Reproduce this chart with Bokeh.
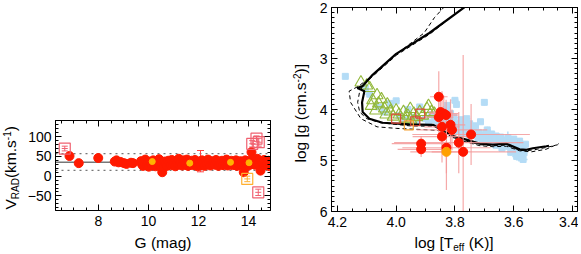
import numpy as np
from math import pi
from bokeh.plotting import figure
from bokeh.models import (Range1d, LinearAxis, FixedTicker, Span, Label, Spacer,
                          PrintfTickFormatter, CustomJSTickFormatter)
from bokeh.layouts import row, column
from bokeh.embed import file_html
from bokeh.resources import INLINE

FONT = "Liberation Sans"

# ---------------- left panel data: V_RAD vs G ----------------
G_circ = [6.84, 7.21, 7.99, 8.65, 8.72, 8.80, 8.88, 9.02, 9.12, 9.30, 9.38,
          9.70, 9.74, 9.78, 9.83, 9.87, 9.92, 9.96, 10.01, 10.05, 10.10, 10.14, 10.19,
          10.23, 10.28, 10.33, 10.38, 10.42, 10.47, 10.52, 10.55, 10.60, 10.65, 10.70,
          10.74, 10.79, 10.84, 10.88, 10.93, 10.98, 11.02, 11.07, 11.12, 11.16, 11.21,
          11.26, 11.30, 11.35, 11.40, 11.45, 11.49, 11.54, 11.58, 11.63, 11.68, 11.72,
          11.77, 11.82, 11.86, 11.91, 11.96, 12.00, 12.05, 12.10, 12.14, 12.19, 12.24,
          12.28, 12.33, 12.38, 12.42, 12.47, 12.52, 12.56, 12.61, 12.66, 12.70, 12.75,
          12.80, 12.84, 12.89, 12.94, 12.98, 13.03, 13.08, 13.12, 13.17, 13.22, 13.26,
          13.31, 13.36, 13.40, 13.45, 13.50, 13.54, 13.59, 13.64, 13.68, 13.73, 13.78,
          13.81, 13.87, 13.92, 13.96, 14.01, 14.06, 14.12, 14.15, 14.20, 14.25, 14.30,
          14.35, 14.40, 14.44, 14.48, 14.52, 14.57, 14.62, 14.66, 14.70, 14.75, 14.80, 14.85]
V_circ = [51, 33, 46, 37, 40, 35, 36, 33, 31, 34, 33,
          38, 30, 26, 35, 42, 28, 33, 24, 37, 31, 27, 40,
          33, 25, 36, 30, 43, 28, 34, 10, 23, 37, 31,
          26, 39, 33, 28, 41, 30, 35, 25, 38, 32, 44,
          29, 36, 27, 40, 33, 30, 42, 26, 36, 31, 39,
          28, 34, 41, 30, 25, 37, 33, 28, 40, 32, 26,
          36, 30, 42, 34, 27, 38, 31, 35, 29, 41, 33,
          26, 37, 31, 39, 28, 35, 30, 42, 27, 36, 32,
          39, 28, 34, 30, 40, 26, 35, 31, 38, 29, 34,
          10, 40, 31, 36, 27, 39, 61, 40, 33, 29, 37,
          44, 31, 26, 14, 38, 33, 41, 28, 36, 30, 39, 25]
# circles carrying visible error bars
G_cerr = [12.08, 10.55, 13.81, 14.48, 14.85]
V_cerr = [38, 10, 10, 14, 25]
dV_cerr = [27, 5, 5, 6, 6]
# orange / yellow circles
G_orange = [10.15, 11.65, 13.28, 14.02]
V_orange = [37, 33, 35, 34]
# open squares with error bars
G_sq = [6.65, 14.15, 14.41, 14.32, 14.39]
V_sq = [70, 82, 86, 95, -41]
dV_sq = [6, 8, 10, 7, 8]
G_osq = [13.95]
V_osq = [-7]
dV_osq = [7]
V_mean = 35.5
V_band = [57.0, 14.5]

# ---------------- right panel data: log g vs log Teff ----------------
iso_T = [3.757, 3.887, 4.000, 4.080, 4.114, 4.132, 4.108, 4.116, 4.114, 4.091, 4.046,
         3.955, 3.875, 3.852, 3.807, 3.762, 3.716, 3.671, 3.625, 3.580, 3.557, 3.535,
         3.489, 3.480]
iso_g = [1.95, 2.50, 2.91, 3.32, 3.54, 3.58, 3.64, 3.86, 4.05, 4.18, 4.26,
         4.29, 4.30, 4.37, 4.52, 4.59, 4.67, 4.69, 4.67, 4.78, 4.79, 4.76,
         4.72, 4.71]
isoA_T = [3.835, 3.870, 3.905, 4.005, 4.088, 4.130, 4.160, 4.155, 4.120, 4.065, 4.000,
          3.887, 3.840, 3.800, 3.760, 3.715, 3.670, 3.625, 3.580, 3.540, 3.490, 3.447]
isoA_g = [1.98, 2.20, 2.50, 2.94, 3.37, 3.55, 3.64, 3.86, 4.18, 4.34, 4.37,
          4.40, 4.42, 4.56, 4.64, 4.71, 4.73, 4.72, 4.81, 4.83, 4.78, 4.67]
isoB_T = [3.760, 3.885, 3.998, 4.078, 4.110, 4.124, 4.131, 4.124, 4.100, 4.054, 3.955,
          3.875, 3.850, 3.807, 3.762, 3.716, 3.670, 3.625, 3.580, 3.557, 3.520, 3.470, 3.450]
isoB_g = [1.95, 2.52, 2.93, 3.34, 3.50, 3.64, 3.86, 4.05, 4.18, 4.26, 4.32,
          4.33, 4.39, 4.55, 4.62, 4.69, 4.71, 4.70, 4.80, 4.81, 4.78, 4.72, 4.69]

blue_T = [4.173, 4.105, 4.090, 4.060, 4.040, 4.020, 4.000, 3.990, 3.970, 3.960, 3.940,
          3.930, 3.920, 3.900, 3.890, 3.880, 3.870, 3.860, 3.850, 3.826, 3.830, 3.815,
          3.820, 3.810, 3.800, 3.790, 3.780, 3.770, 3.760, 3.755, 3.750, 3.740, 3.730,
          3.720, 3.713, 3.700, 3.700, 3.690, 3.680, 3.675, 3.670, 3.660, 3.650, 3.640,
          3.630, 3.625, 3.620, 3.610, 3.600, 3.600, 3.590, 3.585, 3.580, 3.575, 3.570,
          3.565, 3.560, 3.800, 3.795,
          3.840, 3.835, 3.805, 3.795, 3.785, 3.775, 3.765, 3.745, 3.735, 3.725, 3.705,
          3.695, 3.685, 3.665, 3.655, 3.645, 3.635, 3.615, 3.605, 3.595, 3.590, 3.578,
          3.572, 3.568, 3.610, 3.640, 3.660, 3.690, 3.720, 3.750]
blue_g = [3.35, 3.58, 3.70, 3.95, 4.05, 3.88, 3.83, 4.12, 4.20, 4.00, 4.15,
          4.22, 3.95, 4.18, 4.25, 4.10, 4.20, 4.28, 4.15, 3.92, 4.00, 4.08,
          4.18, 4.25, 4.35, 4.28, 4.20, 4.30, 4.18, 4.38, 4.28, 4.40, 4.32,
          4.45, 4.24, 3.86, 4.50, 4.40, 4.55, 4.48, 4.62, 4.52, 4.58, 4.68,
          4.60, 4.72, 4.55, 4.65, 4.80, 4.58, 4.70, 4.88, 4.62, 4.95, 4.75,
          4.85, 4.68, 3.82, 3.90,
          4.22, 4.30, 4.15, 4.42, 4.36, 4.46, 4.40, 4.50, 4.44, 4.52, 4.58,
          4.46, 4.62, 4.57, 4.66, 4.54, 4.64, 4.70, 4.74, 4.66, 4.92, 4.84,
          4.90, 4.98, 4.84, 4.76, 4.70, 4.62, 4.56, 4.50]
blue_dT = [0.010, 0.010, 0.015, 0.010, 0.012, 0.010, 0.012, 0.010, 0.010, 0.012, 0.010,
           0.010, 0.012, 0.010, 0.010, 0.012, 0.010, 0.010, 0.012, 0.010, 0.012, 0.010,
           0.012, 0.010, 0.015, 0.012, 0.010, 0.015, 0.012, 0.010, 0.015, 0.012, 0.010,
           0.015, 0.012, 0.010, 0.015, 0.012, 0.010, 0.015, 0.012, 0.010, 0.015, 0.012,
           0.010, 0.015, 0.012, 0.010, 0.015, 0.012, 0.010, 0.015, 0.012, 0.010, 0.015,
           0.012, 0.010, 0.012, 0.010,
           0.012, 0.010, 0.015, 0.012, 0.010, 0.015, 0.012, 0.010, 0.015, 0.012, 0.010,
           0.015, 0.012, 0.010, 0.015, 0.012, 0.010, 0.015, 0.012, 0.010, 0.015, 0.012,
           0.010, 0.015, 0.012, 0.010, 0.015, 0.012, 0.010, 0.015]
blue_dg = [0.04, 0.04, 0.05, 0.04, 0.05, 0.04, 0.05, 0.04, 0.05, 0.04, 0.05,
           0.04, 0.05, 0.04, 0.05, 0.04, 0.05, 0.04, 0.05, 0.06, 0.05, 0.06,
           0.05, 0.06, 0.05, 0.06, 0.05, 0.06, 0.05, 0.06, 0.05, 0.06, 0.05,
           0.06, 0.05, 0.06, 0.05, 0.06, 0.05, 0.06, 0.05, 0.06, 0.05, 0.08,
           0.05, 0.06, 0.12, 0.06, 0.05, 0.06, 0.05, 0.08, 0.05, 0.08, 0.06,
           0.06, 0.05, 0.06, 0.05,
           0.06, 0.05, 0.06, 0.05, 0.06, 0.05, 0.06, 0.05, 0.06, 0.05, 0.06,
           0.05, 0.06, 0.05, 0.06, 0.05, 0.06, 0.05, 0.06, 0.05, 0.08, 0.06,
           0.08, 0.06, 0.06, 0.05, 0.06, 0.05, 0.06, 0.05]

tri_T = [4.120, 4.100, 4.090, 4.065, 4.080, 4.050, 4.060, 4.030, 4.085, 4.040, 4.020,
         4.000, 3.990, 3.975, 3.960, 3.952, 3.940, 3.930, 3.920, 3.910, 3.895, 3.890,
         3.880, 3.870, 4.010, 3.970, 3.950, 4.035, 4.070]
tri_g = [3.47, 3.53, 3.58, 3.72, 3.82, 3.80, 3.88, 3.90, 3.93, 3.98, 4.04,
         4.02, 4.10, 4.05, 4.12, 3.99, 4.08, 4.15, 4.05, 4.12, 3.99, 3.93,
         4.05, 4.08, 4.14, 4.18, 4.20, 4.10, 4.02]

rc_T = [3.855, 3.849, 3.838, 3.830, 3.855, 3.844, 3.815, 3.810, 3.844, 3.829, 3.787,
        3.772, 3.745, 3.915, 3.915]
rc_g = [3.75, 4.05, 4.08, 4.11, 4.15, 4.34, 4.30, 4.40, 4.53, 4.75, 4.65,
        4.83, 4.49, 4.67, 4.78]
rc_dT = [0.03, 0.04, 0.05, 0.04, 0.05, 0.06, 0.05, 0.12, 0.10, 0.15, 0.22,
         0.18, 0.20, 0.10, 0.08]
rc_dg = [0.50, 0.30, 0.35, 0.30, 0.40, 0.70, 0.50, 0.40, 0.30, 0.50, 0.60,
         1.90, 0.60, 0.15, 0.15]
ro_T = [3.829]
ro_g = [4.83]
ro_dT = [0.05]
ro_dg = [0.75]
rsq_T = [4.000, 3.935, 3.918]
rsq_g = [4.18, 4.23, 4.08]
osq_T = [3.957]
osq_g = [4.31]


def style_axis(ax, ticker, labels=True, fmt=None, standoff=4):
    ax.ticker = ticker
    ax.major_tick_in = 6
    ax.major_tick_out = 0
    ax.minor_tick_in = 3
    ax.minor_tick_out = 0
    ax.axis_line_color = "black"
    ax.major_tick_line_color = "black"
    ax.minor_tick_line_color = "black"
    ax.axis_label = None
    ax.major_label_text_font = FONT
    ax.major_label_text_color = "black"
    if labels:
        ax.major_label_text_font_size = "14px"
        ax.major_label_standoff = standoff
        if fmt is not None:
            ax.formatter = fmt
    else:
        ax.formatter = CustomJSTickFormatter(code="return ''")
        ax.major_label_text_font_size = "1px"
        ax.major_label_standoff = 0


def frame_axes(p, xt, xm, yt, ym, xfmt=None):
    style_axis(p.xaxis[0], FixedTicker(ticks=xt, minor_ticks=xm), fmt=xfmt, standoff=5)
    style_axis(p.yaxis[0], FixedTicker(ticks=yt, minor_ticks=ym), standoff=4)
    top = LinearAxis()
    style_axis(top, FixedTicker(ticks=xt, minor_ticks=xm), labels=False)
    p.add_layout(top, "above")
    rgt = LinearAxis()
    style_axis(rgt, FixedTicker(ticks=yt, minor_ticks=ym), labels=False)
    p.add_layout(rgt, "right")
    p.xgrid.visible = False
    p.ygrid.visible = False
    p.outline_line_color = "black"
    p.outline_line_width = 1
    p.background_fill_color = "white"
    p.border_fill_color = "white"


def text_fig(w, h, top=0, bottom=0):
    # a bare canvas whose frame coordinates are pixels (x right, y down)
    fh = h - top - bottom
    t = figure(width=w, height=h, x_range=Range1d(0, w), y_range=Range1d(fh, 0),
               x_axis_type=None, y_axis_type=None, output_backend="svg",
               toolbar_location=None, min_border=0, min_border_left=0, min_border_right=0,
               min_border_top=top, min_border_bottom=bottom)
    t.outline_line_color = None
    t.xgrid.visible = False
    t.ygrid.visible = False
    t.background_fill_color = "white"
    t.border_fill_color = "white"
    return t


SHIFT = 0.38  # text is drawn this fraction of its size below the requested baseline


def put(t, x, y, text, size, rotated=False, align="left"):
    px = float(size.replace("px", ""))
    if rotated:
        x = x - SHIFT * px
    else:
        y = y - SHIFT * px
    t.add_layout(Label(x=x, y=y, text=text, text_font=FONT, text_font_size=size,
                       text_color="black", angle=(pi / 2 if rotated else 0.0),
                       text_align=align, text_baseline="alphabetic"))


# ======================= LEFT PANEL =======================
L_x = (6.28, 14.88)
L_y = (-87.0, 141.0)
p1 = figure(width=258, height=120, x_range=Range1d(*L_x), y_range=Range1d(*L_y),
            output_backend="svg", toolbar_location=None,
            min_border_left=33, min_border_right=10, min_border_top=7, min_border_bottom=23)
frame_axes(p1, [8, 10, 12, 14], list(np.arange(6.5, 15.0, 0.5)),
           [-50, 0, 50, 100], list(np.arange(-80, 141, 10)))

p1.add_layout(Span(location=V_mean, dimension="width", line_color="#777777",
                   line_width=1.5, level="underlay"))
for b in V_band:
    p1.add_layout(Span(location=b, dimension="width", line_color="#777777",
                       line_width=1.2, line_dash="dotted", level="underlay"))

p1.segment(G_cerr, [v - d for v, d in zip(V_cerr, dV_cerr)], G_cerr,
           [v + d for v, d in zip(V_cerr, dV_cerr)], line_color="#ff4040", line_width=1)
p1.scatter(G_cerr * 2, [v - d for v, d in zip(V_cerr, dV_cerr)] + [v + d for v, d in zip(V_cerr, dV_cerr)],
           marker="dash", size=7, line_color="#ff4040", line_width=1)
p1.scatter(G_circ, V_circ, marker="circle", size=9, fill_color="#ff1a00", line_color="#ff1a00")
p1.scatter(G_orange, V_orange, marker="circle", size=6, fill_color="#ffb400", line_color="#ffb400")

for Gs, Vs, dVs, col in [(G_sq, V_sq, dV_sq, "#f06070"), (G_osq, V_osq, dV_osq, "#ffb030")]:
    lo = [v - d for v, d in zip(Vs, dVs)]
    hi = [v + d for v, d in zip(Vs, dVs)]
    p1.segment(Gs, lo, Gs, hi, line_color=col, line_width=1)
    p1.scatter(Gs * 2, lo + hi, marker="dash", size=6, line_color=col, line_width=1)
    p1.scatter(Gs, Vs, marker="dash", size=6, line_color=col, line_width=1)
    p1.scatter(Gs, Vs, marker="square", size=11, fill_color=None, line_color=col, line_width=1.2)

# y label of the left panel: V_RAD(km.s^-1), rotated (frame spans 90 px)
yl1 = text_fig(22, 120, top=7, bottom=23)
put(yl1, 15.5, 89.0, "V", "15.5px", rotated=True)
put(yl1, 18.5, 78.7, "RAD", "10px", rotated=True)
put(yl1, 15.5, 57.6, "(km.s", "15.5px", rotated=True)
put(yl1, 10.0, 19.7, "-1", "10px", rotated=True)
put(yl1, 15.5, 10.8, ")", "15.5px", rotated=True)

xl1 = text_fig(280, 19)
put(xl1, 162.5, 14.5, "G (mag)", "15.5px", align="center")

left_block = column(Spacer(width=280, height=113), row(yl1, p1, spacing=0), xl1, spacing=0)

# ======================= RIGHT PANEL =======================
R_x = (4.220, 3.383)
R_y = (6.0, 2.0)
p2 = figure(width=268, height=233, x_range=Range1d(*R_x), y_range=Range1d(*R_y),
            output_backend="svg", toolbar_location=None,
            min_border_left=21, min_border_right=1, min_border_top=7, min_border_bottom=22)
frame_axes(p2, [4.2, 4.0, 3.8, 3.6, 3.4], list(np.arange(3.40, 4.23, 0.05)),
           [2, 3, 4, 5, 6], list(np.arange(2.0, 6.01, 0.1)),
           xfmt=PrintfTickFormatter(format="%.1f"))

blue = "#b4dcf6"
p2.segment([t - d for t, d in zip(blue_T, blue_dT)], blue_g,
           [t + d for t, d in zip(blue_T, blue_dT)], blue_g, line_color=blue, line_width=1.5)
p2.segment(blue_T, [g - d for g, d in zip(blue_g, blue_dg)],
           blue_T, [g + d for g, d in zip(blue_g, blue_dg)], line_color=blue, line_width=1.5)
p2.scatter(blue_T, blue_g, marker="square", size=6, fill_color=blue, line_color=blue)

p2.scatter(tri_T, tri_g, marker="triangle", size=12, fill_color=None,
           line_color="#92b83a", line_width=1.1)

p2.line(isoA_T, isoA_g, line_color="black", line_width=1, line_dash="4 3")
p2.line(isoB_T, isoB_g, line_color="black", line_width=1, line_dash="4 3")
p2.line(iso_T, iso_g, line_color="black", line_width=2.2)

pink = "#f39a9a"
allT = rc_T + ro_T
allg = rc_g + ro_g
alldT = rc_dT + ro_dT
alldg = rc_dg + ro_dg
p2.segment([t - d for t, d in zip(allT, alldT)], allg,
           [t + d for t, d in zip(allT, alldT)], allg, line_color=pink, line_width=1.2, line_alpha=0.85)
p2.segment(allT, [g - d for g, d in zip(allg, alldg)],
           allT, [g + d for g, d in zip(allg, alldg)], line_color=pink, line_width=1.2, line_alpha=0.85)

p2.scatter(rsq_T, rsq_g, marker="square", size=9, fill_color=None, line_color="#e0483a", line_width=1.2)
p2.scatter(osq_T, osq_g, marker="square", size=9, fill_color=None, line_color="#f5a030", line_width=1.2)
p2.scatter(rc_T, rc_g, marker="circle", size=9, fill_color="#ff1500", line_color="#ff1500")
p2.scatter(ro_T, ro_g, marker="circle", size=9, fill_color="#ffa000", line_color="#ffa000")

# y label of the right panel: log [g (cm.s^-2)], rotated (frame spans 204 px)
yl2 = text_fig(30, 233, top=7, bottom=22)
put(yl2, 26.0, 155.0, "log [g (cm.s", "15.5px", rotated=True)
put(yl2, 20.5, 74.9, "-2", "10px", rotated=True)
put(yl2, 26.0, 66.0, ")]", "15.5px", rotated=True)

xl2 = text_fig(298, 19)
put(xl2, 134.0, 14.5, "log [T", "15.5px")
put(xl2, 172.8, 17.5, "eff", "10px")
put(xl2, 188.2, 14.5, "(K)]", "15.5px")

right_block = column(row(yl2, p2, spacing=0), xl2, spacing=0)

layout = row(left_block, right_block, spacing=0)
open("out.html", "w").write(file_html(layout, INLINE))
